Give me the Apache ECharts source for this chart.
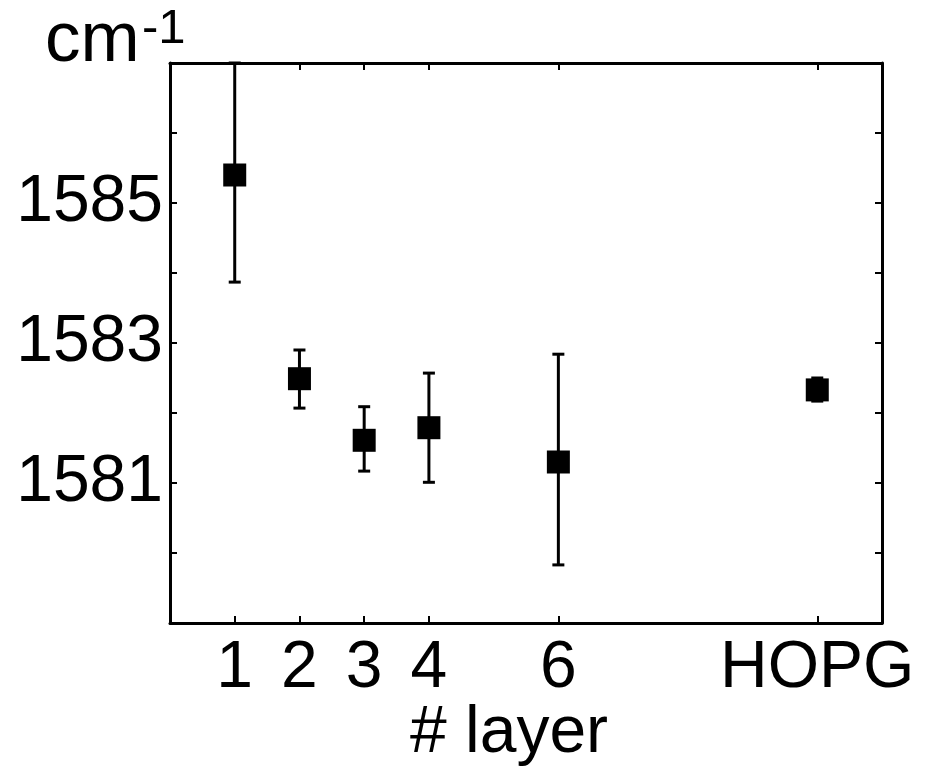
<!DOCTYPE html>
<html>
<head>
<meta charset="utf-8">
<script src="https://cdn.jsdelivr.net/npm/echarts@6/dist/echarts.min.js"></script>
<style>
  html, body { margin: 0; padding: 0; background: #fff; }
  #chart { width: 940px; height: 767px; }
</style>
</head>
<body>
<div id="chart"></div>
<script>
// G-peak position vs. number of layers
var layerPos = [1, 2, 3, 4, 6, 10];
var layerLabels = ['1', '2', '3', '4', '6', 'HOPG'];
var peakMean = [1585.4, 1582.49, 1581.61, 1581.79, 1581.3, 1582.33];
var errLow = [1583.87, 1582.07, 1581.17, 1581.01, 1579.83, 1582.17];
var errHigh = [1587.0, 1582.9, 1582.09, 1582.57, 1582.84, 1582.5];
var yLabelled = [1581, 1583, 1585];

var FONT = "'Liberation Sans', Arial, sans-serif";

var chart = echarts.init(document.getElementById('chart'));

var points = layerPos.map(function (x, i) { return [x, peakMean[i]]; });
var bars = layerPos.map(function (x, i) { return [x, errLow[i], errHigh[i]]; });

function renderErr(params, api) {
    var x = api.value(0);
    var lo = api.coord([x, api.value(1)]);
    var hi = api.coord([x, api.value(2)]);
    var half = 6;
    var st = { stroke: '#000', lineWidth: 3 };
    return {
        type: 'group',
        children: [
            { type: 'line', shape: { x1: lo[0], y1: lo[1], x2: hi[0], y2: hi[1] }, style: st },
            { type: 'line', shape: { x1: lo[0] - half, y1: lo[1], x2: lo[0] + half, y2: lo[1] }, style: st },
            { type: 'line', shape: { x1: hi[0] - half, y1: hi[1], x2: hi[0] + half, y2: hi[1] }, style: st }
        ]
    };
}

var axisLine = { show: true, onZero: false, lineStyle: { color: '#000', width: 3 } };
var tick = { show: true, inside: true, length: 7, lineStyle: { color: '#000', width: 2 } };

var option = {
    backgroundColor: '#fff',
    animation: false,
    grid: { left: 170, right: 58, top: 63, bottom: 144 },
    xAxis: [{
        type: 'value', min: 0, max: 11, position: 'bottom',
        axisLine: axisLine,
        axisTick: Object.assign({ customValues: layerPos }, tick),
        splitLine: { show: false },
        axisLabel: {
            customValues: layerPos,
            margin: 13,
            color: '#000', fontFamily: FONT, fontSize: 66,
            formatter: function (v) { return layerLabels[layerPos.indexOf(v)] || ''; }
        }
    }, {
        type: 'value', min: 0, max: 11, position: 'top',
        axisLine: axisLine,
        axisTick: Object.assign({ customValues: layerPos }, tick),
        splitLine: { show: false },
        axisLabel: { show: false }
    }],
    yAxis: [{
        type: 'value', min: 1579, max: 1587, interval: 1, position: 'left',
        axisLine: axisLine,
        axisTick: tick,
        splitLine: { show: false },
        axisLabel: {
            margin: 7,
            color: '#000', fontFamily: FONT, fontSize: 66,
            formatter: function (v) { return yLabelled.indexOf(v) >= 0 ? String(v) : ''; }
        }
    }, {
        type: 'value', min: 1579, max: 1587, interval: 1, position: 'right',
        axisLine: axisLine,
        axisTick: tick,
        splitLine: { show: false },
        axisLabel: { show: false }
    }],
    graphic: [{
        type: 'text', left: 45, top: 6,
        style: { text: 'cm', fontFamily: FONT, fontSize: 71, fill: '#000' }
    }, {
        type: 'text', left: 142, top: 5,
        style: { text: '-1', fontFamily: FONT, fontSize: 49, fill: '#000' }
    }, {
        type: 'text', left: 410, top: 701,
        style: { text: '# layer', fontFamily: FONT, fontSize: 66, fill: '#000' }
    }],
    series: [{
        type: 'custom',
        renderItem: renderErr,
        data: bars,
        encode: { x: 0, y: [1, 2] },
        z: 2
    }, {
        type: 'scatter',
        data: points,
        symbol: 'rect',
        symbolSize: 23,
        itemStyle: { color: '#000', opacity: 1 },
        z: 3
    }]
};

chart.setOption(option);
</script>
</body>
</html>
